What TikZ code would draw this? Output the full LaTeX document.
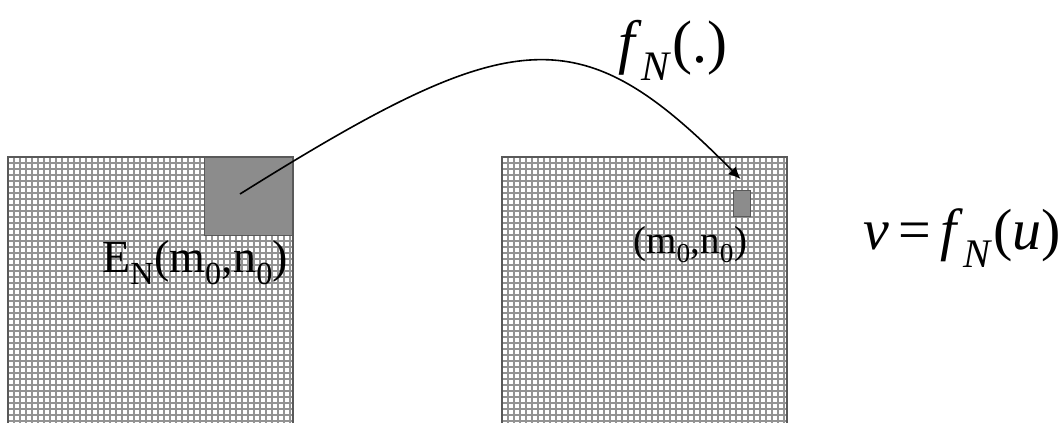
\documentclass[tikz,border=0pt]{standalone}
\usepackage{fontspec}
\setmainfont{Liberation Serif}[ItalicFont={Liberation Serif Italic}]
\usetikzlibrary{arrows.meta,positioning}

\begin{document}
\begin{tikzpicture}[x=1pt,y=-1pt,
    gridline/.style={gray!85,line width=1.5pt},
    frame/.style={draw=black!65,line width=1.8pt},
    patch/.style={draw=black!65,fill=black!45,line width=1pt,inner sep=0pt}]
  \useasboundingbox (0,0) rectangle (1061,423);
  % the two pixel grids
  \foreach \xo in {8,502}{
    \foreach \i in {1,...,47}{\draw[gridline] (\xo+\i*6,157) -- (\xo+\i*6,423);}
    \foreach \j in {1,...,44}{\draw[gridline] (\xo,157+\j*6) -- (\xo+285,157+\j*6);}
    \draw[frame] (\xo,423) -- (\xo,157) -- (\xo+285,157) -- (\xo+285,423);
  }
  \node[patch,minimum width=88pt,minimum height=78pt,anchor=north east] (blk) at (293,157) {};
  \node[patch,minimum width=17pt,minimum height=26pt] (pix) at (741.5,203) {};
  \coordinate (src) at (240,194);
  \coordinate (tip) at (740.5,179);
  \draw[line width=1.6pt,-{Latex[length=12pt,width=11pt]}] (src) .. controls (515,22) and (580,16) .. (tip);
  \node[anchor=base west,inner sep=0pt,font=\fontsize{46}{46}\selectfont] (blklbl) at (102,272) {E\textsubscript{N}(m\textsubscript{0},n\textsubscript{0})};
  \node[anchor=base west,inner sep=0pt,font=\fontsize{39}{39}\selectfont] (pixlbl) at (633,253) {(m\textsubscript{0},n\textsubscript{0})};
  \node[anchor=base west,inner sep=0pt,font=\fontsize{60}{60}\selectfont] (fnlbl) at (618,62) {\textit{f}\textsubscript{\textit{N}}(.)};
  \node[anchor=base west,inner sep=0pt,font=\fontsize{58}{58}\selectfont] (eqlbl) at (863,249) {\textit{v}\,=\,\textit{f}\textsubscript{\textit{N}}(\textit{u})};
\end{tikzpicture}
\end{document}
